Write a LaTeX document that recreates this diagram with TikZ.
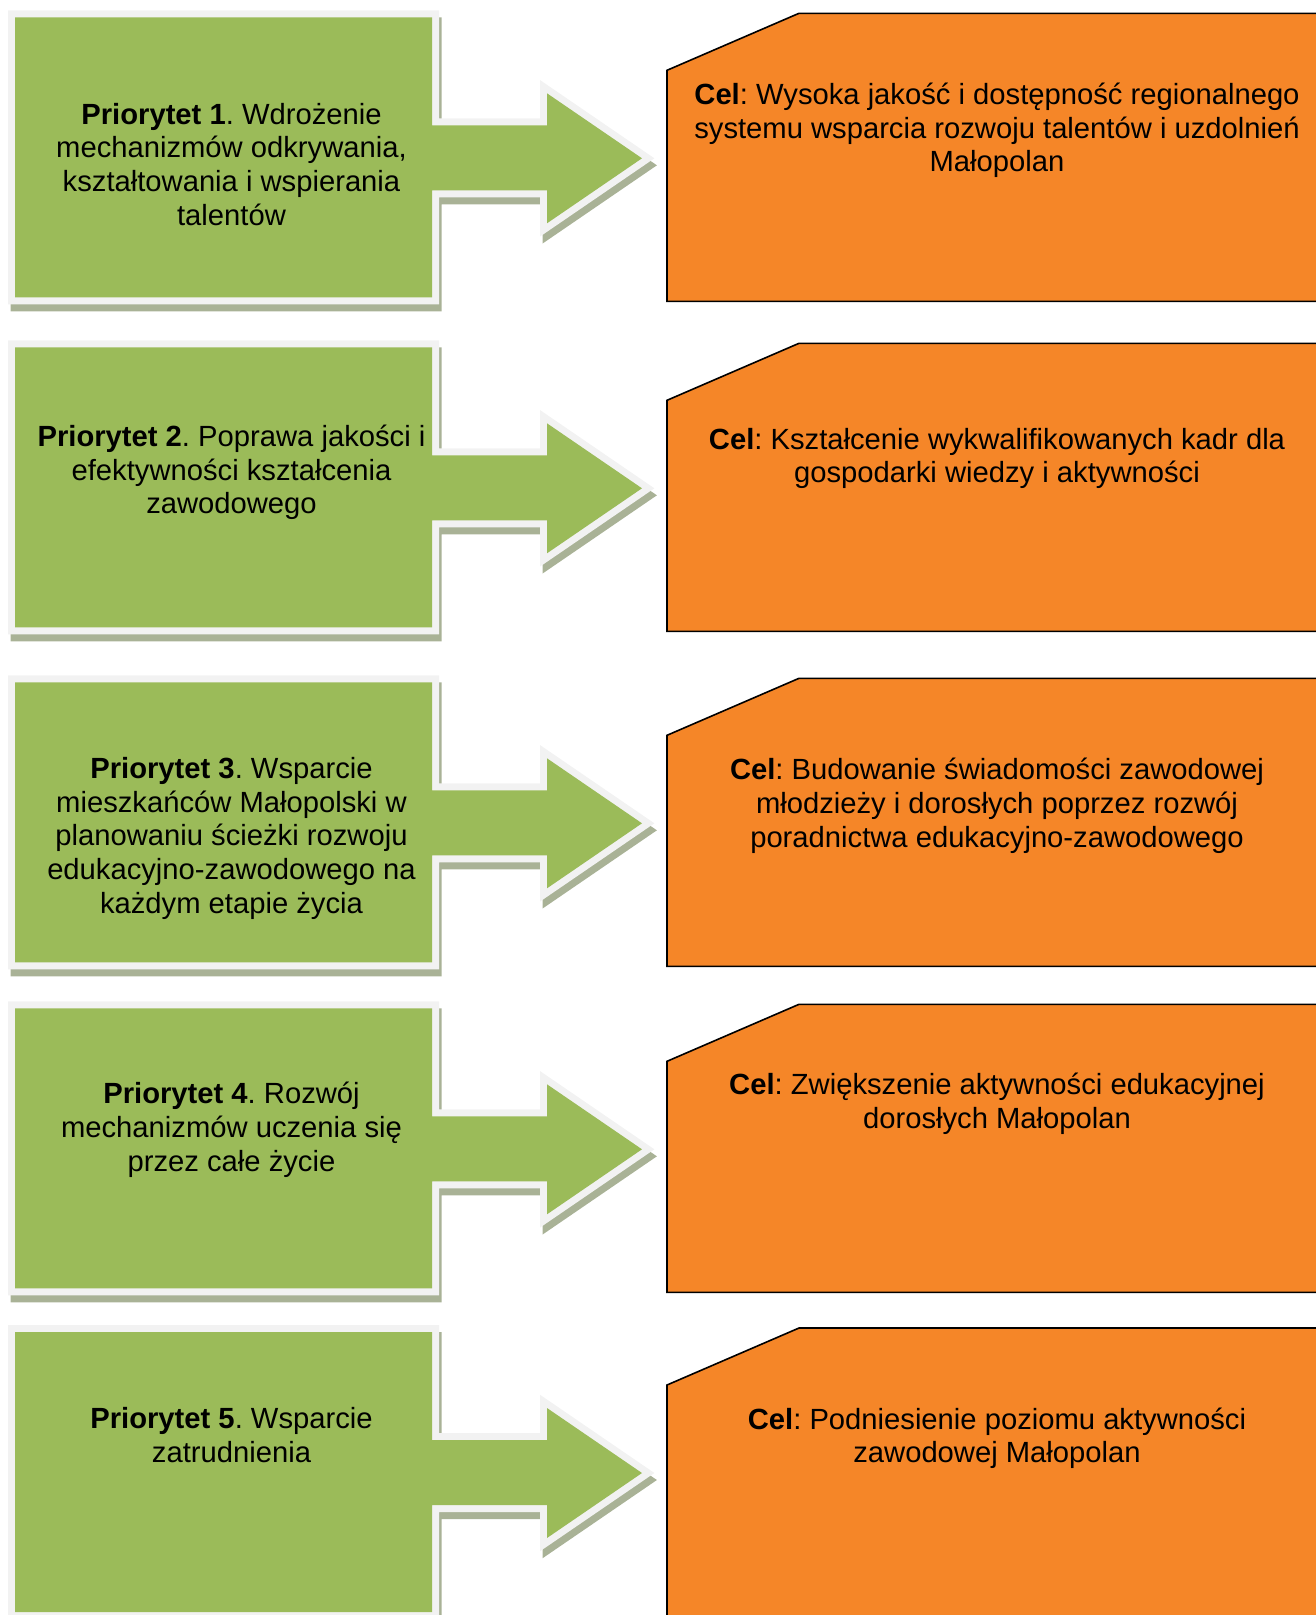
\documentclass[tikz,border=0pt]{standalone}
\usepackage{fontspec}
\setmainfont{Liberation Sans}
\definecolor{priogreen}{HTML}{9BBB59}
\definecolor{prioedge}{HTML}{F2F2F2}
\definecolor{prioshade}{HTML}{A9B296}
\definecolor{celorange}{HTML}{F58628}
\newcommand{\prioshape}{(15,0) -- (432,0) -- (432,108) -- (547,108) -- (547,76) -- (642,141) -- (547,206) -- (547,173) -- (432,173) -- (432,280) -- (15,280) -- cycle}
\newcommand{\celshape}{(667,53) -- (799,-4) -- (1330,-4) -- (1330,284) -- (667,284) -- cycle}
\tikzset{
  prioshadow/.style={draw=prioshade,line width=14pt,line join=miter,shift={(2.5,7)}},
  prioborder/.style={draw=prioedge,line width=14pt,line join=miter},
  priofill/.style={fill=priogreen},
  celbox/.style={draw=black,fill=celorange,line width=1.6pt},
  priotext/.style={align=center,anchor=base,inner sep=0pt} % base = last line
}

\begin{document}
\frenchspacing
\begin{tikzpicture}[x=1pt,y=-1pt]
\fontsize{29.2pt}{33.8pt}\selectfont
\path[use as bounding box,clip] (0,0) rectangle (1316,1615);
% row 1
\draw[prioshadow,shift={(0,17.3)}] \prioshape;
\draw[prioborder,shift={(0,17.3)}] \prioshape;
\fill[priofill,shift={(0,17.3)}] \prioshape;
\draw[celbox,shift={(0,17.3)}] \celshape;
% row 2
\draw[prioshadow,shift={(0,347.3)}] \prioshape;
\draw[prioborder,shift={(0,347.3)}] \prioshape;
\fill[priofill,shift={(0,347.3)}] \prioshape;
\draw[celbox,shift={(0,347.3)}] \celshape;
% row 3
\draw[prioshadow,shift={(0,682.3)}] \prioshape;
\draw[prioborder,shift={(0,682.3)}] \prioshape;
\fill[priofill,shift={(0,682.3)}] \prioshape;
\draw[celbox,shift={(0,682.3)}] \celshape;
% row 4
\draw[prioshadow,shift={(0,1008.3)}] \prioshape;
\draw[prioborder,shift={(0,1008.3)}] \prioshape;
\fill[priofill,shift={(0,1008.3)}] \prioshape;
\draw[celbox,shift={(0,1008.3)}] \celshape;
% row 5
\draw[prioshadow,shift={(0,1332)}] \prioshape;
\draw[prioborder,shift={(0,1332)}] \prioshape;
\fill[priofill,shift={(0,1332)}] \prioshape;
\draw[celbox,shift={(0,1332)}] \celshape;
% priorities
\node[priotext] (prio1) at (231.5,225.4) {\textbf{Priorytet 1}. Wdrożenie\\mechanizmów odkrywania,\\kształtowania i wspierania\\talentów};
\node[priotext] (prio2) at (231.5,513.9) {\textbf{Priorytet 2}. Poprawa jakości i\\efektywności kształcenia\\zawodowego};
\node[priotext] (prio3) at (231.5,913.5) {\textbf{Priorytet 3}. Wsparcie\\mieszkańców Małopolski w\\planowaniu ścieżki rozwoju\\edukacyjno-zawodowego na\\każdym etapie życia};
\node[priotext] (prio4) at (231.5,1171.1) {\textbf{Priorytet 4}. Rozwój\\mechanizmów uczenia się\\przez całe życie};
\node[priotext] (prio5) at (231.5,1462.3) {\textbf{Priorytet 5}. Wsparcie\\zatrudnienia};
% goals
\node[priotext] (cel1) at (997,171.9) {\textbf{Cel}: Wysoka jakość i dostępność regionalnego\\systemu wsparcia rozwoju talentów i uzdolnień\\Małopolan};
\node[priotext] (cel2) at (997,482.8) {\textbf{Cel}: Kształcenie wykwalifikowanych kadr dla\\gospodarki wiedzy i aktywności};
\node[priotext] (cel3) at (997,847.1) {\textbf{Cel}: Budowanie świadomości zawodowej\\młodzieży i dorosłych poprzez rozwój\\poradnictwa edukacyjno-zawodowego};
\node[priotext] (cel4) at (997,1128.1) {\textbf{Cel}: Zwiększenie aktywności edukacyjnej\\dorosłych Małopolan};
\node[priotext] (cel5) at (997,1462.8) {\textbf{Cel}: Podniesienie poziomu aktywności\\zawodowej Małopolan};
\end{tikzpicture}
\end{document}
